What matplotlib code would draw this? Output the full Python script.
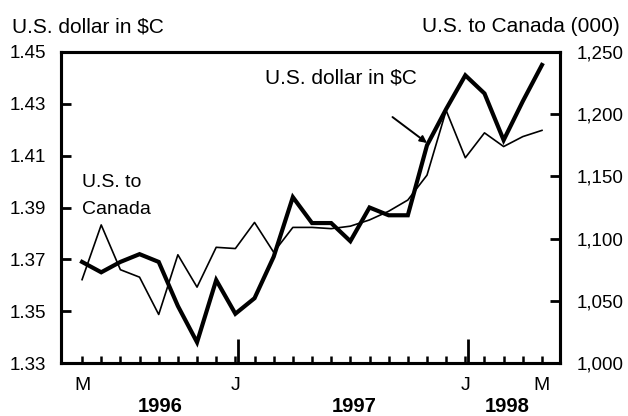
import numpy as np
import matplotlib
matplotlib.use('Agg')
import matplotlib.pyplot as plt

plt.rcParams['font.family'] = ['Liberation Sans', 'DejaVu Sans']

# monthly, May 1996 - May 1998
months = np.arange(25)
usd_in_cad = [1.369, 1.365, 1.369, 1.372, 1.369, 1.352, 1.338, 1.362, 1.349, 1.355,
              1.371, 1.394, 1.384, 1.384, 1.377, 1.390, 1.387, 1.387, 1.414, 1.428,
              1.441, 1.434, 1.416, 1.431, 1.445]
us_to_canada = [1067, 1111, 1075, 1069, 1039, 1087, 1061, 1093, 1092, 1113,
                1089, 1109, 1109, 1108, 1110, 1115, 1122, 1131, 1151, 1203,
                1165, 1185, 1174, 1182, 1187]
month_labels = ['M', 'J', 'J', 'M']
month_pos = [0, 8, 20, 24]
year_labels = ['1996', '1997', '1998']
year_pos = [4.1, 14.2, 22.2]

fig = plt.figure(figsize=(6.28, 4.16), dpi=100)
ax = fig.add_axes([0.0971, 0.1274, 0.7949, 0.7476])
ax2 = ax.twinx()

ax.plot(months, usd_in_cad, color='black', lw=3.0, solid_joinstyle='miter', zorder=3)
ax2.plot(months, us_to_canada, color='black', lw=1.2, zorder=2)

ax.set_xlim(-1.1, 24.95)
ax.set_ylim(1.33, 1.45)
ax2.set_ylim(1000, 1250)

ax.set_yticks(np.arange(1.33, 1.4501, 0.02))
ax.set_yticklabels(['%.2f' % v for v in np.arange(1.33, 1.4501, 0.02)])
ax2.set_yticks(np.arange(1000, 1251, 50))
ax2.set_yticklabels(['{:,}'.format(v) for v in range(1000, 1251, 50)])

for a in (ax, ax2):
    for s in a.spines.values():
        s.set_linewidth(2.2)

ax.tick_params(axis='y', direction='in', length=7, width=2, labelsize=13.5, pad=11)
ax2.tick_params(axis='y', direction='in', length=7, width=2, labelsize=13.5, pad=12)

# monthly minor ticks, longer ticks at January
ax.set_xticks(months, minor=True)
ax.set_xticks([8.15, 20.15])
ax.set_xticklabels([])
ax.tick_params(axis='x', which='minor', direction='in', length=5, width=1.8)
ax.tick_params(axis='x', which='major', direction='in', length=17, width=2)

for p, l in zip(month_pos, month_labels):
    ax.text(p, -0.071, l, transform=ax.get_xaxis_transform(), ha='center', va='center', fontsize=14)
for p, l in zip(year_pos, year_labels):
    ax.text(p, -0.141, l, transform=ax.get_xaxis_transform(), ha='center', va='center',
            fontsize=14.5, fontweight='bold')

fig.text(12 / 628, 1 - 32 / 416, 'U.S. dollar in $C', fontsize=15, ha='left', va='baseline')
fig.text(620 / 628, 1 - 32 / 416, 'U.S. to Canada (000)', fontsize=15, ha='right', va='baseline')

ax.text(0.0, 1.3979, 'U.S. to', fontsize=14, ha='left', va='baseline')
ax.text(0.0, 1.3875, 'Canada', fontsize=14, ha='left', va='baseline')

ax.text(9.55, 1.438, 'U.S. dollar in $C', fontsize=15, ha='left', va='baseline')
ax.annotate('', xy=(18.0, 1.4149), xytext=(16.2, 1.4249),
            arrowprops=dict(arrowstyle='-|>', color='black', lw=1.4, shrinkA=0, shrinkB=0,
                            mutation_scale=10))

fig.savefig('out.png', dpi=100)
